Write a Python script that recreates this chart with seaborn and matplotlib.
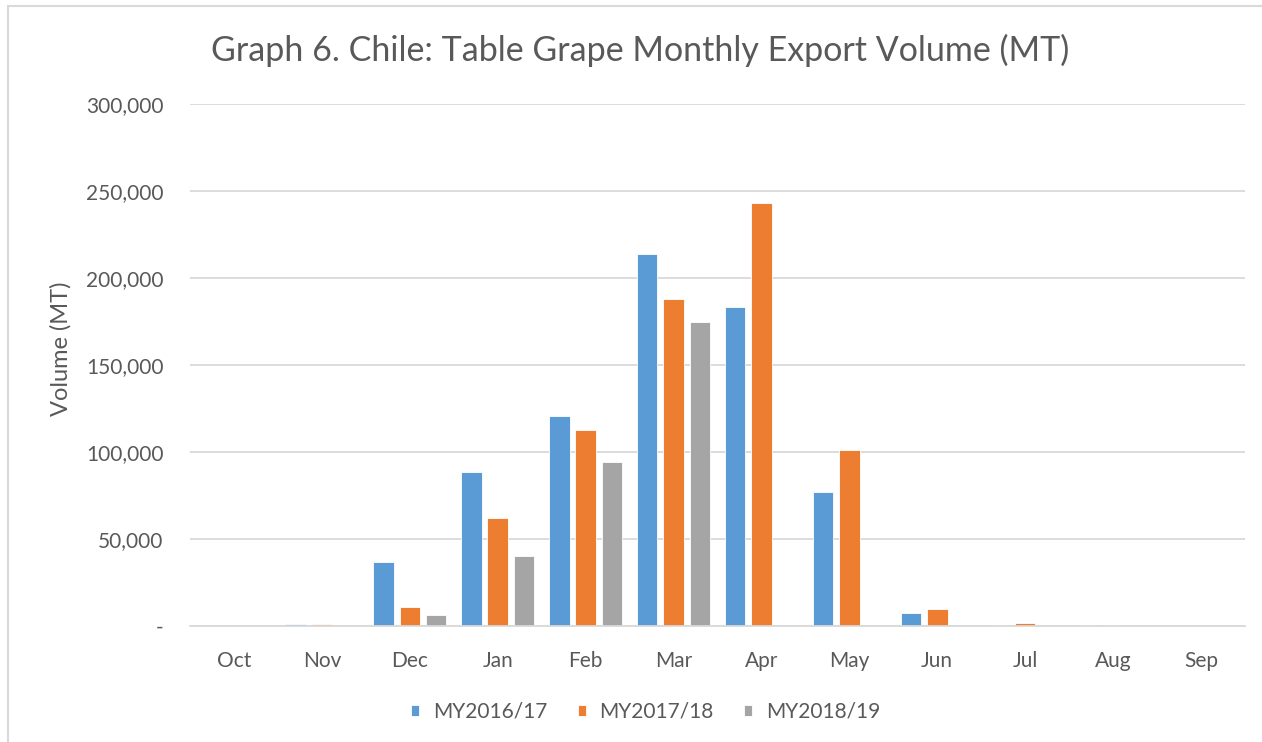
import pandas as pd
import numpy as np

import matplotlib
matplotlib.use("Agg")
import matplotlib.pyplot as plt
from matplotlib.patches import Rectangle
from matplotlib.ticker import FuncFormatter
import seaborn as sns

months = ["Oct", "Nov", "Dec", "Jan", "Feb", "Mar",
          "Apr", "May", "Jun", "Jul", "Aug", "Sep"]

my_2016_17 = [0, 900, 37000, 88500, 120500, 214000,
              183500, 77000, 7500, 700, 700, 0]
my_2017_18 = [0, 900, 10800, 62300, 112500, 188000,
              243000, 101000, 9800, 1800, 800, 0]
my_2018_19 = [0, 0, 6200, 40500, 94000, 175000,
              0, 0, 0, 0, 0, 0]

series_names = ["MY2016/17", "MY2017/18", "MY2018/19"]
colors = ["#5B9BD5", "#ED7D31", "#A5A5A5"]

df = pd.DataFrame({
    "month": months * 3,
    "season": np.repeat(series_names, len(months)),
    "volume": my_2016_17 + my_2017_18 + my_2018_19,
})

sns.set_style("white")
plt.rcParams["font.family"] = ["Lato", "DejaVu Sans"]

text_color = "#595959"
grid_color = "#D9D9D9"

fig = plt.figure(figsize=(12.62, 7.42), dpi=100)
ax = fig.add_axes([190 / 1262, 1 - 626 / 742, 1055 / 1262, 522 / 742])

sns.barplot(
    data=df,
    x="month",
    y="volume",
    hue="season",
    order=months,
    hue_order=series_names,
    palette=colors,
    width=0.9,
    gap=0.22,
    saturation=1,
    edgecolor="white",
    linewidth=0.6,
    ax=ax,
)

ax.set_ylim(0, 300000)
ax.set_xlim(-0.5, 11.5)
ax.set_yticks(range(0, 300001, 50000))
ax.yaxis.set_major_formatter(
    FuncFormatter(lambda v, p: "-" if v == 0 else f"{int(v):,}")
)
ax.grid(axis="y", color=grid_color, linewidth=1.3)
ax.set_axisbelow(True)

for side in ["top", "right", "left"]:
    ax.spines[side].set_visible(False)
ax.spines["bottom"].set_color(grid_color)
ax.spines["bottom"].set_linewidth(1.3)

ax.tick_params(axis="both", length=0, colors=text_color)
ax.tick_params(axis="x", pad=18, labelsize=15)
ax.tick_params(axis="y", pad=19, labelsize=15)

ax.set_xlabel("")
ax.set_ylabel("Volume (MT)", fontsize=17, color=text_color,
              va="center")
ax.yaxis.set_label_coords((61 - 190) / 1055, (626 - 349) / 522)

fig.text(
    0.507, 1 - 50 / 742,
    "Graph 6. Chile: Table Grape Monthly Export Volume (MT)",
    ha="center", va="center", fontsize=24.5, color=text_color,
)

handles, labels = ax.get_legend_handles_labels()
ax.legend(
    handles, labels,
    loc="center", bbox_to_anchor=(0.5115, 1 - 712 / 742),
    bbox_transform=fig.transFigure,
    ncol=3, frameon=False, fontsize=15,
    handlelength=0.4, handleheight=0.4, handletextpad=0.65,
    columnspacing=1.45, labelcolor=text_color,
)

fig.patches.append(Rectangle(
    (8 / 1262, -0.05), 1.1, 1 - 6 / 742 + 0.05,
    transform=fig.transFigure, fill=False,
    edgecolor=grid_color, linewidth=1.5,
))

fig.savefig("out.png", dpi=100, facecolor="white")
